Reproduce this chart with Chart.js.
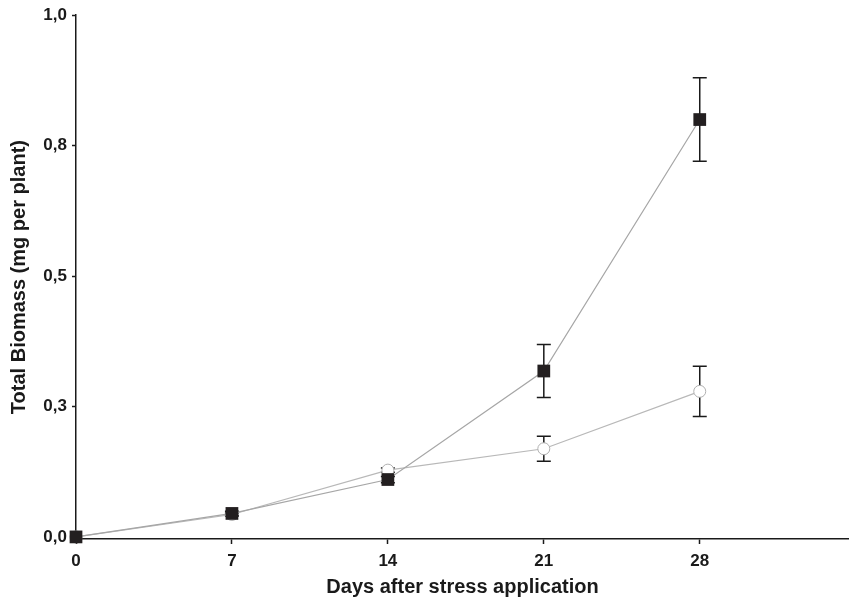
<!DOCTYPE html>
<html>
<head>
<meta charset="utf-8">
<script src="https://cdn.jsdelivr.net/npm/chart.js@4"></script>
<style>
  html, body { margin: 0; padding: 0; background: #fff; }
  canvas { display: block; }
</style>
</head>
<body>
<canvas id="biomass" width="849" height="599"></canvas>
<script>
// days after stress application
const days = [0, 7, 14, 21, 28]
// filled squares
const squareMean = [0, 0.045, 0.110, 0.318, 0.800]
const squareErr = [0, 0.004, 0.006, 0.051, 0.080]
// open circles
const circleMean = [0, 0.043, 0.128, 0.169, 0.279]
const circleErr = [0, 0.003, 0.004, 0.024, 0.048]
// axis ticks
const xTicks = [0, 7, 14, 21, 28]
const yTicks = [0, 0.25, 0.5, 0.75, 1]

const toPoints = (ys) => days.map((d, i) => ({x: d, y: ys[i]}))

// error bars, drawn under the markers
const errorBars = {
    id: 'errorBars',
    beforeDatasetsDraw(chart){
        const ctx = chart.ctx
        const xs = chart.scales.x
        const ys = chart.scales.y
        const sets = [[squareMean, squareErr], [circleMean, circleErr]]
        ctx.save()
        ctx.strokeStyle = '#1a1a1a'
        ctx.lineWidth = 1.5
        sets.forEach(([mean, err]) => {
            days.forEach((d, i) => {
                if (!err[i]) return
                const px = xs.getPixelForValue(d)
                const top = ys.getPixelForValue(mean[i] + err[i])
                const bot = ys.getPixelForValue(mean[i] - err[i])
                ctx.beginPath()
                ctx.moveTo(px, top); ctx.lineTo(px, bot)
                ctx.moveTo(px - 7, top); ctx.lineTo(px + 7, top)
                ctx.moveTo(px - 7, bot); ctx.lineTo(px + 7, bot)
                ctx.stroke()
            })
        })
        ctx.restore()
    }
}

const font = {family: '"Liberation Sans", Arial, sans-serif', weight: 'bold'}

const ctx = document.getElementById('biomass').getContext('2d')
const config = {
    type: 'line',
    data: {
        datasets: [{
            data: toPoints(squareMean),
            borderColor: '#a6a6a6',
            borderWidth: 1.2,
            pointStyle: 'rect',
            pointRadius: 9,
            pointBackgroundColor: '#231f20',
            pointBorderColor: '#231f20',
            pointBorderWidth: 0,
            fill: false,
            clip: false,
        }, {
            data: toPoints(circleMean),
            borderColor: '#b8b8b8',
            borderWidth: 1.2,
            pointStyle: 'circle',
            pointRadius: 6,
            pointBackgroundColor: '#ffffff',
            pointBorderColor: '#b0b0b0',
            pointBorderWidth: 1,
            fill: false,
            clip: false,
        }]
    },
    options: {
        responsive: false,
        animation: false,
        layout: {autoPadding: false, padding: {top: 12, left: 0, right: 0, bottom: 0}},
        plugins: {legend: {display: false}, tooltip: {enabled: false}},
        scales: {
            x: {
                type: 'linear',
                min: 0,
                max: 34.7,
                afterBuildTicks: (s) => { s.ticks = xTicks.map(v => ({value: v})) },
                afterFit: (s) => { s.height = 60 },
                grid: {drawOnChartArea: false, drawTicks: true, tickLength: 5, tickColor: '#1a1a1a', tickWidth: 1.5},
                border: {display: true, color: '#1a1a1a', width: 1.5},
                ticks: {color: '#1a1a1a', font: {...font, size: 17}, padding: 7, maxRotation: 0},
                title: {display: true, text: 'Days after stress application', color: '#1a1a1a',
                        font: {...font, size: 20}, padding: {top: 0, bottom: 0}}
            },
            y: {
                min: -0.004,
                max: 1,
                afterBuildTicks: (s) => { s.ticks = yTicks.map(v => ({value: v})) },
                afterFit: (s) => { s.width = 76 },
                grid: {drawOnChartArea: false, drawTicks: true, tickLength: 4, tickColor: '#1a1a1a', tickWidth: 1.5},
                border: {display: true, color: '#1a1a1a', width: 1.5},
                ticks: {color: '#1a1a1a', font: {...font, size: 17}, padding: 5,
                        callback: (v) => v.toFixed(1).replace('.', ',')},
                title: {display: true, text: 'Total Biomass (mg per plant)', color: '#1a1a1a',
                        font: {...font, size: 20}, padding: {top: 7, bottom: 0}}
            }
        }
    },
    plugins: [errorBars]
}

const chart = new Chart(ctx, config)
</script>
</body>
</html>
